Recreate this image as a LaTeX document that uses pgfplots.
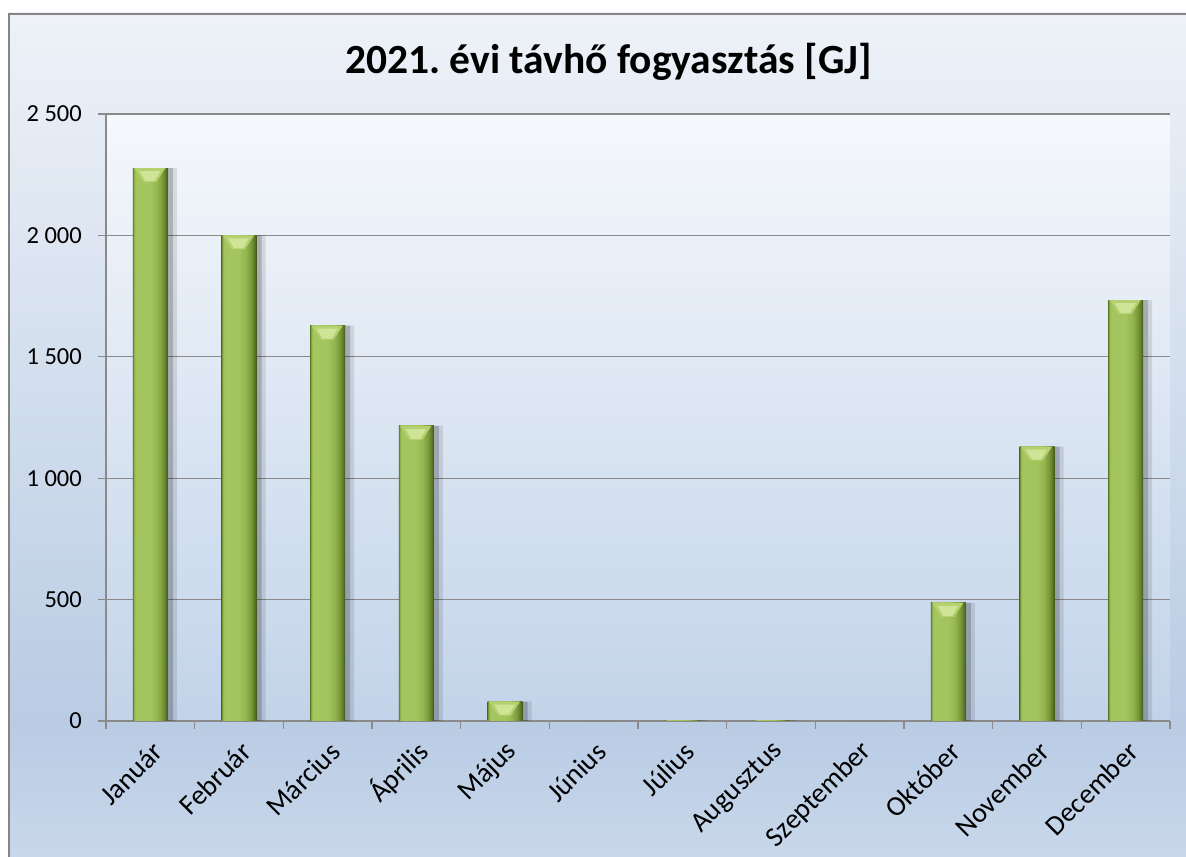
\documentclass[border=0pt]{standalone}
\usepackage{fontspec}
\setmainfont{Carlito}
\usepackage{pgfplots}
\pgfplotsset{compat=1.18}
\usepackage{pgfplotstable}
\frenchspacing

\definecolor{cbTop}{HTML}{EEF2F8}
\definecolor{cbMid}{HTML}{B9CCE4}
\definecolor{cbBot}{HTML}{C8D7EB}
\definecolor{pbTop}{HTML}{F5F8FC}
\definecolor{pbBot}{HTML}{C2D3E9}
\definecolor{gridc}{HTML}{8A8A8A}
\definecolor{framec}{HTML}{858585}
\definecolor{gA}{HTML}{5E7D25}
\definecolor{gB}{HTML}{8EB04A}
\definecolor{gC}{HTML}{A5C65E}
\definecolor{gD}{HTML}{A4C45E}
\definecolor{gE}{HTML}{93B44E}
\definecolor{gF}{HTML}{7A9A3A}
\definecolor{gH}{HTML}{5C7826}
\definecolor{gG}{HTML}{3C5216}
\definecolor{bevA}{HTML}{B4D070}
\definecolor{bevB}{HTML}{CFE497}

\pgfdeclareverticalshading{chartbg}{100bp}{color(0bp)=(cbBot); color(25bp)=(cbBot); color(33bp)=(cbMid); color(75bp)=(cbTop); color(100bp)=(cbTop)}
\pgfdeclareverticalshading{plotbg}{100bp}{color(0bp)=(pbBot); color(25bp)=(pbBot); color(75bp)=(pbTop); color(100bp)=(pbTop)}
\pgfdeclarehorizontalshading{barshade}{100bp}{color(0bp)=(gA); color(25bp)=(gA); color(26.5bp)=(gB); color(29bp)=(gC); color(50bp)=(gD); color(60bp)=(gE); color(67bp)=(gF); color(72bp)=(gH); color(75bp)=(gG); color(100bp)=(gG)}

\pgfdeclareplotmark{bevel}{%
  \pgfsetfillcolor{bevA}%
  \pgfpathmoveto{\pgfqpoint{-16bp}{0bp}}%
  \pgfpathlineto{\pgfqpoint{15bp}{0bp}}%
  \pgfpathlineto{\pgfqpoint{6bp}{-14bp}}%
  \pgfpathlineto{\pgfqpoint{-7bp}{-14bp}}%
  \pgfpathclose\pgfusepathqfill
  \pgfsetfillcolor{bevB}%
  \pgfpathmoveto{\pgfqpoint{-11bp}{-3bp}}%
  \pgfpathlineto{\pgfqpoint{10bp}{-3bp}}%
  \pgfpathlineto{\pgfqpoint{4bp}{-13bp}}%
  \pgfpathlineto{\pgfqpoint{-5bp}{-13bp}}%
  \pgfpathclose\pgfusepathqfill
}

\pgfplotstableread{
x y
0.5 2277
1.5 2000
2.5 1628
3.5 1215
4.5 80
5.5 0
6.5 3
7.5 3
8.5 0
9.5 487
10.5 1130
11.5 1733
}\datatable

\begin{document}
\begin{tikzpicture}[x=1bp,y=1bp]
\useasboundingbox (0,0) rectangle (1186,857);
\fill[white] (0,0) rectangle (1186,857);
\shade[shading=chartbg] (8,0) rectangle (1186,844);
\draw[line width=1.6bp, color=framec] (8.8,0) -- (8.8,843.2) -- (1186,843.2);
\node[anchor=base, font=\fontsize{41.5bp}{48bp}\selectfont\bfseries] at (608.5,783) {2021. évi távhő fogyasztás [GJ]};
\begin{axis}[
  at={(106bp,136bp)}, anchor=south west,
  scale only axis, width=1064bp, height=607bp,
  xmin=0, xmax=12, ymin=0, ymax=2500,
  axis lines*=left, axis line style={-, line width=1.3bp, color=gridc},
  ymajorgrids, grid style={line width=1.3bp, color=gridc},
  tick style={line width=1.3bp, color=gridc},
  tick align=outside, major tick length=8bp,
  ytick={0,500,1000,1500,2000,2500},
  xtick={0,1,2,3,4,5,6,7,8,9,10,11,12},
  xticklabels={Január,Február,Március,Április,Május,Június,Július,Augusztus,Szeptember,Október,November,December,{}},
  yticklabel style={font=\fontsize{24.5bp}{28bp}\selectfont, inner sep=0pt, xshift=-16bp},
  xticklabel style={font=\fontsize{28bp}{32bp}\selectfont, xshift=52bp, yshift=-18bp, rotate=45, anchor=east, inner sep=0pt},
  /pgf/number format/assume math mode=true,
  /pgf/number format/1000 sep={\ },
  axis background/.style={shading=plotbg},
]
\addplot[ybar, bar width=35bp, bar shift=9bp, fill=black, fill opacity=0.10, draw=none] table[x=x,y=y] {\datatable};
\addplot[ybar, bar width=35bp, bar shift=5bp, fill=black, fill opacity=0.18, draw=none] table[x=x,y=y] {\datatable};
\pgfplotsinvokeforeach{0,1,2,3,4,5,6,7,8,9,10,11}{
  \addplot[ybar, bar width=35bp, bar shift=0bp, draw=none, shading=barshade,
    restrict x to domain=#1.1:#1.9] table[x=x,y=y] {\datatable};
}
\addplot[only marks, mark=bevel, restrict y to domain=20:3000] table[x=x,y=y] {\datatable};
\end{axis}
\end{tikzpicture}
\end{document}
